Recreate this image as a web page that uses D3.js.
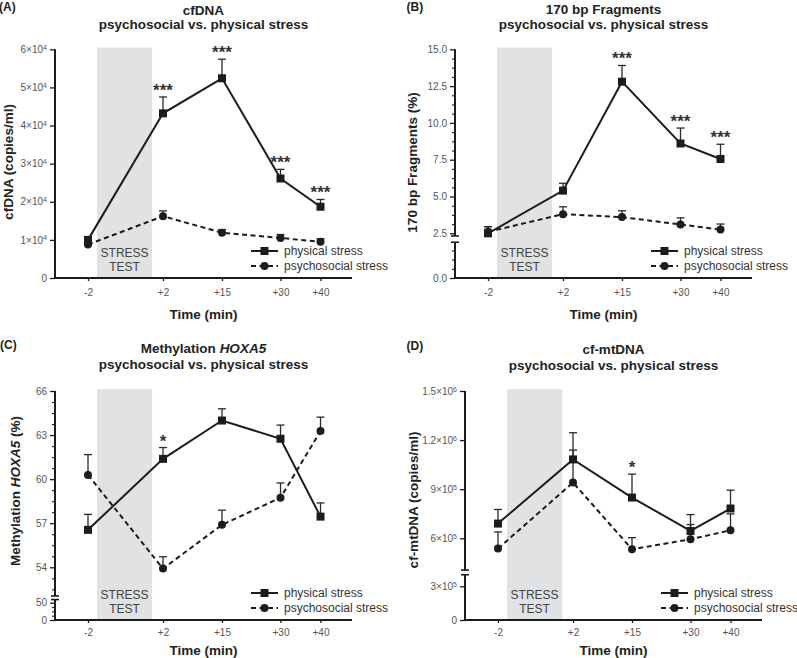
<!DOCTYPE html>
<html><head><meta charset="utf-8">
<script src="https://cdn.jsdelivr.net/npm/d3@7"></script>
<style>
body{margin:0;background:#fff}
svg{display:block}
text{font-family:"Liberation Sans",Arial,Helvetica,sans-serif}
</style>
</head><body>
<svg id="chart" width="797" height="658"></svg>
<script>
// ---------- DATA ----------
const timeLabels = ["-2", "+2", "+15", "+30", "+40"];
const timePoints = [-2, 2, 15, 30, 40];
const stressWindow = [-1.52, 1.42];
const seriesNames = ["physical stress", "psychosocial stress"];

// (A) cfDNA (copies/ml)
const cfdnaPhysical      = [10000, 43200, 52400, 26100, 18700];
const cfdnaPhysicalSem   = [500, 4300, 5000, 2400, 1900];
const cfdnaPsycho        = [8800, 16200, 11900, 10500, 9500];
const cfdnaPsychoSem     = [500, 1400, 800, 900, 800];
const cfdnaSig           = ["", "***", "***", "***", "***"];
const cfdnaTicks         = [0, 10000, 20000, 30000, 40000, 50000, 60000];

// (B) 170 bp fragments (%)
const fragPhysical       = [2.5, 5.4, 12.8, 8.6, 7.55];
const fragPhysicalSem    = [0.45, 0.5, 1.1, 1.05, 1.0];
const fragPsycho         = [2.6, 3.8, 3.6, 3.1, 2.75];
const fragPsychoSem      = [0.35, 0.5, 0.43, 0.45, 0.38];
const fragSig            = ["", "", "***", "***", "***"];
const fragTicksLow       = [0];
const fragTicksHigh      = [2.5, 5, 7.5, 10, 12.5, 15];

// (C) Methylation HOXA5 (%)
const methPhysical       = [56.55, 61.38, 63.99, 62.75, 57.45];
const methPhysicalSem    = [1.05, 0.77, 0.8, 0.93, 0.93];
const methPsycho         = [60.29, 53.91, 56.89, 58.74, 63.27];
const methPsychoSem      = [1.38, 0.81, 1.0, 1.0, 0.95];
const methSig            = ["", "*", "", "", ""];
const methTicksLow       = [0, 50];
const methTicksHigh      = [54, 57, 60, 63, 66];

// (D) cf-mtDNA (copies/ml)
const mtPhysical         = [690000, 1082000, 849000, 645000, 782000];
const mtPhysicalSem      = [86000, 163000, 143000, 100000, 112000];
const mtPsycho           = [537000, 941000, 533000, 594000, 649000];
const mtPsychoSem        = [102000, 198000, 71000, 90000, 100000];
const mtSig              = ["", "", "*", "", ""];
const mtTicksLow         = [0, 300000];
const mtTicksHigh        = [600000, 900000, 1200000, 1500000];

// ---------- DRAW ----------
const svg = d3.select("#chart");
svg.append("rect").attr("width", 797).attr("height", 658).attr("fill", "#fff");

const INK = "#1c1c1c", TICKTXT = "#555", BOX = "#e1e2e4";

function sci(v) {
  if (v === 0) return {m: "0", e: null};
  const e = Math.floor(Math.log10(v));
  const m = +(v / Math.pow(10, e)).toFixed(2);
  return {m: m + "×10", e: String(e)};
}

function drawPanel(cfg) {
  const g = svg.append("g");
  const x0 = cfg.axisX, x1 = cfg.axisX + 297, yb = cfg.bottom;
  const x = d3.scaleLinear().domain(timePoints)
    .range([33, 108, 167, 225.5, 265.5].map(d => x0 + d));
  const segs = cfg.segments;
  const yData = segs[segs.length - 1].scale;

  // stress test box
  const bx0 = x(stressWindow[0]), bx1 = x(stressWindow[1]);
  g.append("rect").attr("x", bx0).attr("y", cfg.top - 1.7)
    .attr("width", bx1 - bx0).attr("height", yb - cfg.top + 1.7).attr("fill", BOX);
  g.append("text").attr("x", (bx0 + bx1) / 2).attr("y", yb - 21.5)
    .attr("text-anchor", "middle").attr("font-size", 12).attr("fill", "#444").text("STRESS");
  g.append("text").attr("x", (bx0 + bx1) / 2).attr("y", yb - 7)
    .attr("text-anchor", "middle").attr("font-size", 12).attr("fill", "#444").text("TEST");

  // y axis segments
  segs.forEach(seg => {
    const s = seg.scale;
    const ax = g.append("g").attr("transform", `translate(${x0},0)`)
      .call(d3.axisLeft(s).tickValues(seg.ticks).tickSize(5).tickPadding(3)
        .tickFormat(d => seg.fmt(d)));
    ax.select(".domain").remove();
    ax.selectAll(".tick line").attr("stroke", INK).attr("stroke-width", 1.3);
    ax.selectAll(".tick text").attr("font-size", 10).attr("fill", TICKTXT)
      .attr("font-family", "Liberation Sans, Arial, sans-serif")
      .each(function(d) {
        if (!seg.sci) return;
        const t = d3.select(this), f = sci(d);
        t.text(f.m);
        if (f.e) t.append("tspan").attr("dy", "-0.45em").attr("font-size", 7).text(f.e);
      });
    if (seg.minor && seg.minor.length) {
      const mi = g.append("g").attr("transform", `translate(${x0},0)`)
        .call(d3.axisLeft(s).tickValues(seg.minor).tickSize(3).tickFormat(""));
      mi.select(".domain").remove();
      mi.selectAll(".tick line").attr("stroke", INK).attr("stroke-width", 1.1);
    }
    g.append("line").attr("x1", x0).attr("x2", x0)
      .attr("y1", s(seg.ext[0]) + (seg.ext[0] === 0 ? 1 : 0)).attr("y2", s(seg.ext[1]))
      .attr("stroke", INK).attr("stroke-width", 2);
    (seg.caps || []).forEach(c => {
      g.append("line").attr("x1", x0 - 4).attr("x2", x0 + 4)
        .attr("y1", s(c)).attr("y2", s(c)).attr("stroke", INK).attr("stroke-width", 1.6);
    });
  });

  // x axis
  const xa = g.append("g").attr("transform", `translate(0,${yb})`)
    .call(d3.axisBottom(x).tickValues(timePoints).tickSize(3).tickPadding(cfg.xPad)
      .tickFormat((d, i) => timeLabels[i]));
  xa.select(".domain").remove();
  xa.selectAll(".tick line").attr("stroke", INK).attr("stroke-width", 1.3);
  xa.selectAll(".tick text").attr("font-size", 10).attr("fill", TICKTXT)
    .attr("font-family", "Liberation Sans, Arial, sans-serif");
  g.append("line").attr("x1", x0 - 1).attr("x2", x1).attr("y1", yb).attr("y2", yb)
    .attr("stroke", INK).attr("stroke-width", 2);

  // series
  const series = [
    {vals: cfg.phys, sem: cfg.physSem, dash: null, marker: "square"},
    {vals: cfg.psy, sem: cfg.psySem, dash: "5,3.5", marker: "circle"}
  ];
  const line = d3.line().x((d, i) => x(timePoints[i])).y(d => yData(d));
  series.slice().reverse().forEach(sr => {
    g.append("path").attr("d", line(sr.vals)).attr("fill", "none")
      .attr("stroke", INK).attr("stroke-width", 2).attr("stroke-dasharray", sr.dash);
  });
  series.forEach(sr => {
    sr.vals.forEach((v, i) => {
      const cx = x(timePoints[i]), yt = yData(v + sr.sem[i]);
      g.append("line").attr("x1", cx).attr("x2", cx).attr("y1", yData(v)).attr("y2", yt)
        .attr("stroke", "#2a2a2a").attr("stroke-width", 1.3);
      g.append("line").attr("x1", cx - 4).attr("x2", cx + 4).attr("y1", yt).attr("y2", yt)
        .attr("stroke", "#2a2a2a").attr("stroke-width", 1.3);
    });
  });
  function marker(sel, type, cx, cy) {
    if (type === "square") sel.append("rect").attr("x", cx - 4).attr("y", cy - 4)
      .attr("width", 8).attr("height", 8).attr("fill", INK);
    else sel.append("circle").attr("cx", cx).attr("cy", cy).attr("r", 4).attr("fill", INK);
  }
  series.slice().reverse().forEach(sr => {
    sr.vals.forEach((v, i) => marker(g, sr.marker, x(timePoints[i]), yData(v)));
  });

  // significance
  cfg.sig.forEach((s, i) => {
    if (!s) return;
    const top = yData(cfg.phys[i] + cfg.physSem[i]);
    g.append("text").attr("x", x(timePoints[i])).attr("y", top - 1)
      .attr("text-anchor", "middle").attr("font-size", 17).attr("font-weight", "bold")
      .attr("fill", "#333").text(s);
  });

  // legend
  series.forEach((sr, k) => {
    const ly = yb + (k === 0 ? -27 : -12);
    g.append("line").attr("x1", x0 + 196).attr("x2", x0 + 223).attr("y1", ly).attr("y2", ly)
      .attr("stroke", INK).attr("stroke-width", 2).attr("stroke-dasharray", sr.dash);
    marker(g, sr.marker, x0 + 209.5, ly);
    g.append("text").attr("x", x0 + 229).attr("y", ly).attr("dy", "0.35em")
      .attr("font-size", 12).attr("fill", "#333").text(seriesNames[k]);
  });

  // titles
  const tcx = x0 + 148.5;
  const t1 = g.append("text").attr("x", tcx).attr("y", cfg.titleY[0]).attr("text-anchor", "middle")
    .attr("font-size", 13.5).attr("font-weight", "bold").attr("fill", "#222");
  cfg.title.forEach(p => t1.append("tspan").attr("font-style", p.i ? "italic" : null).text(p.t));
  g.append("text").attr("x", tcx).attr("y", cfg.titleY[1]).attr("text-anchor", "middle")
    .attr("font-size", 13.5).attr("font-weight", "bold").attr("fill", "#222")
    .text("psychosocial vs. physical stress");
  g.append("text").attr("x", cfg.labelX).attr("y", cfg.labelY)
    .attr("font-size", 12).attr("font-weight", "bold").attr("fill", "#222").text(cfg.label);

  // y label
  const yl = g.append("text")
    .attr("transform", `translate(${cfg.yLabX},${cfg.yLabY}) rotate(-90)`)
    .attr("text-anchor", "middle").attr("font-size", 13.5).attr("font-weight", "bold").attr("fill", "#222");
  cfg.yLabel.forEach(p => yl.append("tspan").attr("font-style", p.i ? "italic" : null).text(p.t));

  // x label
  g.append("text").attr("x", tcx).attr("y", cfg.xLabY).attr("text-anchor", "middle")
    .attr("font-size", 13.5).attr("font-weight", "bold").attr("fill", "#222").text("Time (min)");
}

const fmt1 = d => d3.format(".1f")(d);
const fmt0 = d => String(d);

drawPanel({
  label: "(A)", labelX: -1, labelY: 11,
  title: [{t: "cfDNA"}], titleY: [15, 29],
  yLabel: [{t: "cfDNA (copies/ml)"}], yLabX: 13, yLabY: 162,
  xLabY: 319, xPad: 7.5,
  axisX: 55, top: 49.3, bottom: 278,
  segments: [{scale: d3.scaleLinear().domain([0, 60000]).range([278, 49.3]),
    ticks: cfdnaTicks, fmt: fmt0, sci: true, ext: [0, 60000]}],
  phys: cfdnaPhysical, physSem: cfdnaPhysicalSem, psy: cfdnaPsycho, psySem: cfdnaPsychoSem,
  sig: cfdnaSig
});

drawPanel({
  label: "(B)", labelX: 406.5, labelY: 11,
  title: [{t: "170 bp Fragments"}], titleY: [13.5, 28.5],
  yLabel: [{t: "170 bp Fragments (%)"}], yLabX: 417, yLabY: 162.5,
  xLabY: 319, xPad: 7.5,
  axisX: 455, top: 49.3, bottom: 278,
  segments: [
    {scale: d3.scaleLinear().domain([0, 2.5]).range([278, 241.2]),
      ticks: fragTicksLow, fmt: fmt1, ext: [0, 2.43], caps: [2.43],
      minor: [0.625, 1.25, 1.875]},
    {scale: d3.scaleLinear().domain([2.5, 15]).range([233.3, 49.3]),
      ticks: fragTicksHigh, fmt: fmt1, ext: [2.32, 15], caps: [2.32],
      minor: d3.range(2.5, 15.01, 0.625).filter(v => Math.abs(v / 2.5 - Math.round(v / 2.5)) > 1e-6)}
  ],
  phys: fragPhysical, physSem: fragPhysicalSem, psy: fragPsycho, psySem: fragPsychoSem,
  sig: fragSig
});

drawPanel({
  label: "(C)", labelX: 0, labelY: 349,
  title: [{t: "Methylation "}, {t: "HOXA5", i: true}], titleY: [353, 369],
  yLabel: [{t: "Methylation "}, {t: "HOXA5", i: true}, {t: " (%)"}], yLabX: 19.5, yLabY: 491,
  xLabY: 654.5, xPad: 5.5,
  axisX: 55, top: 391, bottom: 620,
  segments: [
    {scale: d3.scaleLinear().domain([0, 50]).range([620, 602.7]),
      ticks: methTicksLow, fmt: fmt0, ext: [0, 59], caps: [59], minor: [12.5, 25, 37.5]},
    {scale: d3.scaleLinear().domain([54, 66]).range([567.3, 391]),
      ticks: methTicksHigh, fmt: fmt0, ext: [52.05, 66], caps: [52.05],
      minor: d3.range(52.5, 66, 0.75).filter(v => Math.abs(v / 3 - Math.round(v / 3)) > 1e-6)}
  ],
  phys: methPhysical, physSem: methPhysicalSem, psy: methPsycho, psySem: methPsychoSem,
  sig: methSig
});

drawPanel({
  label: "(D)", labelX: 406.5, labelY: 350,
  title: [{t: "cf-mtDNA"}], titleY: [354, 370],
  yLabel: [{t: "cf-mtDNA (copies/ml)"}], yLabX: 417.5, yLabY: 500,
  xLabY: 654.5, xPad: 5.5,
  axisX: 465, top: 391, bottom: 620,
  segments: [
    {scale: d3.scaleLinear().domain([0, 300000]).range([620, 586.3]),
      ticks: mtTicksLow, fmt: fmt0, sci: true, ext: [0, 403000], caps: [403000]},
    {scale: d3.scaleLinear().domain([600000, 1500000]).range([538.3, 391]),
      ticks: mtTicksHigh, fmt: fmt0, sci: true, ext: [406000, 1500000], caps: [406000]}
  ],
  phys: mtPhysical, physSem: mtPhysicalSem, psy: mtPsycho, psySem: mtPsychoSem,
  sig: mtSig
});
</script>
</body></html>
